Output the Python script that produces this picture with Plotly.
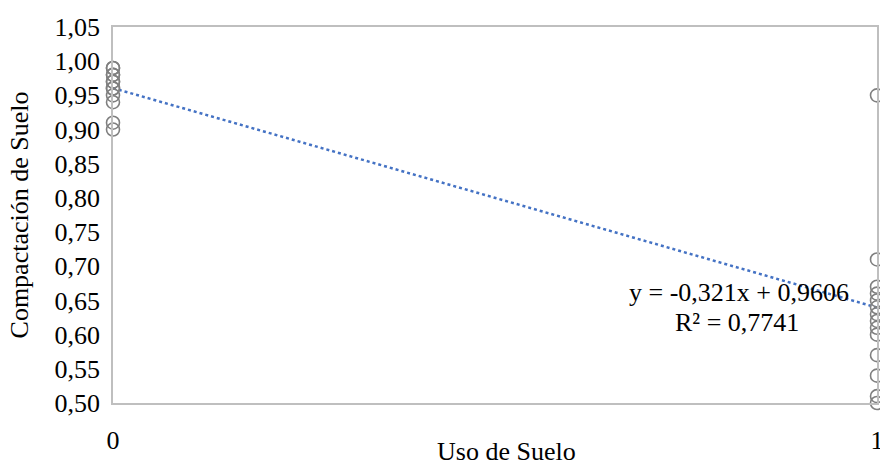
import plotly.graph_objects as go

# Data
uso_0 = [0.99, 0.99, 0.98, 0.98, 0.97, 0.97, 0.96, 0.96, 0.95, 0.94, 0.91, 0.90]
uso_1 = [0.95, 0.71, 0.67, 0.66, 0.65, 0.64, 0.63, 0.62, 0.61, 0.60, 0.57, 0.54, 0.51, 0.50]
slope = -0.321
intercept = 0.9606
r2 = 0.7741
x_ticks = [0, 1]
y_ticks = [0.50, 0.55, 0.60, 0.65, 0.70, 0.75, 0.80, 0.85, 0.90, 0.95, 1.00, 1.05]

xs = [0] * len(uso_0) + [1] * len(uso_1)
ys = uso_0 + uso_1

font = "Liberation Serif, Times New Roman, serif"

fig = go.Figure()
fig.add_trace(go.Scatter(
    x=x_ticks,
    y=[intercept + slope * x for x in x_ticks],
    mode="lines",
    line=dict(color="#4472C4", width=2.5, dash="dot"),
    showlegend=False,
    hoverinfo="skip",
))
fig.add_trace(go.Scatter(
    x=xs, y=ys, mode="markers",
    marker=dict(symbol="circle-open", size=13, color="#7F7F7F",
                line=dict(width=1.6, color="#7F7F7F")),
    cliponaxis=False,
    showlegend=False,
))

eq_text = f"y = {slope:.3f}x + {intercept:.4f}".replace(".", ",")
r2_text = f"R² = {r2:.4f}".replace(".", ",")

fig.update_layout(
    width=880, height=462,
    margin=dict(l=113, r=3, t=27, b=59),
    paper_bgcolor="white", plot_bgcolor="white",
    separators=",.",
    font=dict(family=font, size=26, color="#000000"),
    xaxis=dict(range=[0, 1], tickvals=x_ticks, showgrid=False, zeroline=False,
               showline=True, linecolor="#BFBFBF", linewidth=1.5, mirror=True,
               ticks="", ticklabelstandoff=13, tickfont=dict(size=26),
               ticklabeloverflow="allow", automargin=False),
    yaxis=dict(range=[0.50, 1.05], tickvals=y_ticks, tickformat=".2f",
               showgrid=False, zeroline=False,
               showline=True, linecolor="#BFBFBF", linewidth=1.5, mirror=True,
               ticks="", ticklabelstandoff=6, tickfont=dict(size=26),
               ticklabeloverflow="allow", automargin=False,
               title=dict(text="Compactación de Suelo", font=dict(size=26), standoff=18)),
    annotations=[
        dict(text="Uso de Suelo", xref="paper", yref="paper", x=0.515, y=-0.13,
             xanchor="center", yanchor="middle", showarrow=False, font=dict(size=26)),
        dict(text=eq_text, xref="paper", yref="paper", x=0.819, y=0.293,
             xanchor="center", yanchor="middle", showarrow=False, font=dict(size=26)),
        dict(text=r2_text, xref="paper", yref="paper", x=0.817, y=0.215,
             xanchor="center", yanchor="middle", showarrow=False, font=dict(size=26)),
    ],
)

fig.write_html(
    "out.html",
    config={"displayModeBar": False},
    post_script="document.body.style.margin='0';document.body.style.overflow='hidden';",
)
